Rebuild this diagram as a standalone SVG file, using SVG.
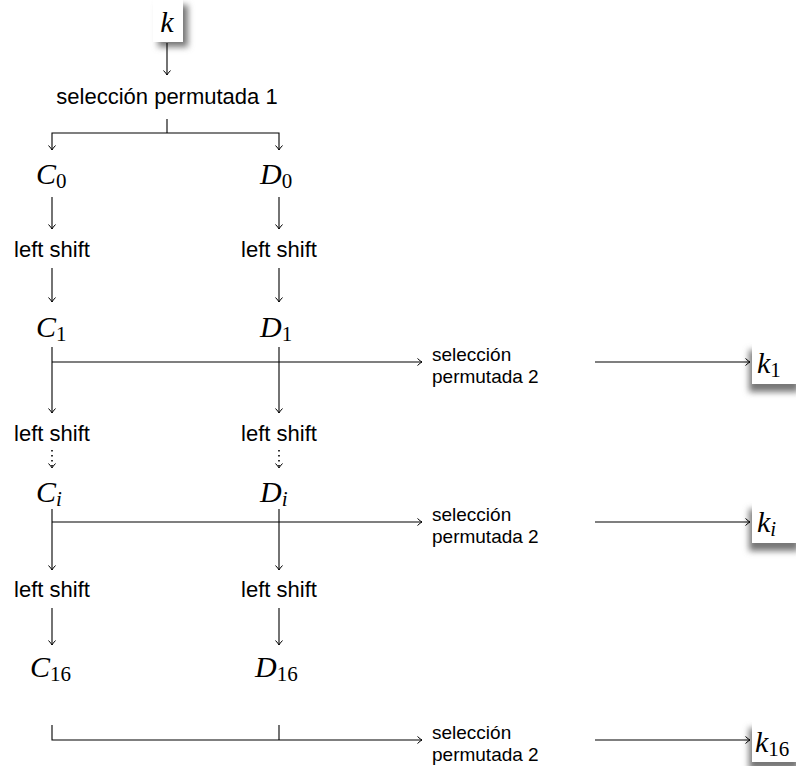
<svg xmlns="http://www.w3.org/2000/svg" width="796" height="766" viewBox="0 0 796 766">
<defs>
<marker id="ah" markerWidth="10" markerHeight="10" refX="8" refY="5" orient="auto" markerUnits="userSpaceOnUse">
<path d="M3.5,1.5 Q6.5,4.3 8,5 Q6.5,5.7 3.5,8.5" fill="none" stroke="#000" stroke-width="1"/>
</marker>
<filter id="sh" x="-50%" y="-50%" width="200%" height="200%">
<feGaussianBlur stdDeviation="3"/>
</filter>
<style>
.ln{stroke:#000;stroke-width:1.1;fill:none}
.ar{stroke:#000;stroke-width:1.1;fill:none;marker-end:url(#ah)}
.dt{stroke:#000;stroke-width:1.6;fill:none;stroke-dasharray:1.6 3.4;marker-end:url(#ah)}
.sf{font-family:"Liberation Sans",Arial,sans-serif;font-size:22px;fill:#000}
.s2{font-family:"Liberation Sans",Arial,sans-serif;font-size:19px;fill:#000}
.mi{font-family:"Liberation Serif","Times New Roman",serif;font-size:30px;font-style:italic;fill:#000}
.sb{font-family:"Liberation Serif","Times New Roman",serif;font-size:21px;font-style:normal}
.si{font-family:"Liberation Serif","Times New Roman",serif;font-size:21px;font-style:italic}
.box{fill:#fff}
.shd{fill:#777}
</style>
</defs>
<rect width="796" height="766" fill="#fff"/>

<g id="n-k">
<rect class="shd" x="158" y="5" width="30" height="42" filter="url(#sh)"/>
<rect class="box" x="153" y="0" width="30" height="42"/>
<text class="mi" x="167" y="32" text-anchor="middle">k</text>
</g>
<g id="n-sp1"><text class="sf" x="167" y="104" text-anchor="middle">selección permutada 1</text></g>

<g id="n-C0"><text class="mi" x="36" y="184">C<tspan class="sb" dy="4">0</tspan></text></g>
<g id="n-D0"><text class="mi" x="260" y="184">D<tspan class="sb" dy="4">0</tspan></text></g>
<g id="n-ls1a"><text class="sf" x="52" y="257" text-anchor="middle">left shift</text></g>
<g id="n-ls1b"><text class="sf" x="279" y="257" text-anchor="middle">left shift</text></g>
<g id="n-C1"><text class="mi" x="36" y="337">C<tspan class="sb" dy="4">1</tspan></text></g>
<g id="n-D1"><text class="mi" x="260" y="337">D<tspan class="sb" dy="4">1</tspan></text></g>
<g id="n-sp2a"><text class="s2" x="432" y="361">selección</text><text class="s2" x="432" y="383">permutada 2</text></g>
<g id="n-k1">
<rect class="shd" x="749" y="350" width="50" height="42" filter="url(#sh)"/>
<rect class="box" x="752" y="342" width="44" height="42"/>
<text class="mi" x="757" y="373">k<tspan class="sb" dy="4">1</tspan></text>
</g>
<g id="n-ls2a"><text class="sf" x="52" y="441" text-anchor="middle">left shift</text></g>
<g id="n-ls2b"><text class="sf" x="279" y="441" text-anchor="middle">left shift</text></g>
<g id="n-Ci"><text class="mi" x="36" y="502">C<tspan class="si" dy="4">i</tspan></text></g>
<g id="n-Di"><text class="mi" x="260" y="502">D<tspan class="si" dy="4">i</tspan></text></g>
<g id="n-sp2b"><text class="s2" x="432" y="521">selección</text><text class="s2" x="432" y="543">permutada 2</text></g>
<g id="n-ki">
<rect class="shd" x="749" y="509" width="50" height="42" filter="url(#sh)"/>
<rect class="box" x="752" y="501" width="44" height="42"/>
<text class="mi" x="757" y="532">k<tspan class="si" dy="4">i</tspan></text>
</g>
<g id="n-ls3a"><text class="sf" x="52" y="597" text-anchor="middle">left shift</text></g>
<g id="n-ls3b"><text class="sf" x="279" y="597" text-anchor="middle">left shift</text></g>
<g id="n-C16"><text class="mi" x="30" y="677">C<tspan class="sb" dy="4">16</tspan></text></g>
<g id="n-D16"><text class="mi" x="255" y="677">D<tspan class="sb" dy="4">16</tspan></text></g>
<g id="n-sp2c"><text class="s2" x="432" y="739">selección</text><text class="s2" x="432" y="761">permutada 2</text></g>
<g id="n-k16">
<rect class="shd" x="749" y="728" width="50" height="42" filter="url(#sh)"/>
<rect class="box" x="752" y="720" width="44" height="42"/>
<text class="mi" x="755" y="752">k<tspan class="sb" dy="4">16</tspan></text>
</g>

<g id="connectors">
<line class="ar" x1="167" y1="43" x2="167" y2="75"/>
<line class="ln" x1="167" y1="119" x2="167" y2="133"/>
<polyline class="ar" points="167,133 52,133 52,150"/>
<polyline class="ar" points="167,133 279,133 279,150"/>
<line class="ar" x1="52" y1="197" x2="52" y2="229"/>
<line class="ar" x1="279" y1="197" x2="279" y2="229"/>
<line class="ar" x1="52" y1="268" x2="52" y2="302"/>
<line class="ar" x1="279" y1="268" x2="279" y2="302"/>
<line class="ar" x1="52" y1="347" x2="52" y2="413"/>
<line class="ar" x1="279" y1="347" x2="279" y2="413"/>
<line class="ar" x1="52" y1="362" x2="422" y2="362"/>
<line class="ar" x1="595" y1="362" x2="750" y2="362"/>
<line class="dt" x1="52" y1="450" x2="52" y2="468"/>
<line class="dt" x1="279" y1="450" x2="279" y2="468"/>
<line class="ar" x1="52" y1="509" x2="52" y2="570"/>
<line class="ar" x1="279" y1="509" x2="279" y2="570"/>
<line class="ar" x1="52" y1="522" x2="422" y2="522"/>
<line class="ar" x1="595" y1="522" x2="750" y2="522"/>
<line class="ar" x1="52" y1="608" x2="52" y2="645"/>
<line class="ar" x1="279" y1="608" x2="279" y2="645"/>
<polyline class="ar" points="52,725 52,740 422,740"/>
<line class="ln" x1="279" y1="725" x2="279" y2="740"/>
<line class="ar" x1="595" y1="740" x2="750" y2="740"/>
</g>
</svg>
